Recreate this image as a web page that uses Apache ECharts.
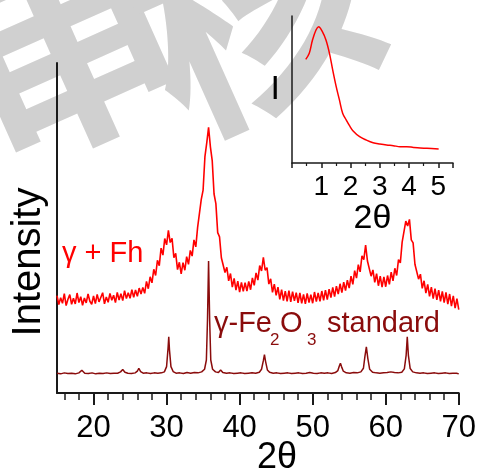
<!DOCTYPE html>
<html>
<head>
<meta charset="utf-8">
<script src="https://cdn.jsdelivr.net/npm/echarts@6/dist/echarts.min.js"></script>
<style>
html, body { margin: 0; padding: 0; background: #fff; }
#chart { width: 479px; height: 476px; }
</style>
</head>
<body>
<div id="chart"></div>
<script>
// γ + Fh pattern, sampled every 0.25° from 15°
const fhStart = 15;
const fhStep = 0.25;
const fhCounts = [
  29.5, 26.8, 28.9, 27.2, 30.1, 26.5, 28.4, 29.8,
  26.9, 28.7, 27.0, 30.3, 27.4, 29.2, 26.6, 28.8,
  27.3, 30.0, 27.8, 26.9, 29.4, 27.1, 29.9, 27.6,
  28.2, 30.4, 27.0, 29.1, 27.5, 30.2, 28.1, 29.6,
  27.4, 30.5, 28.2, 30.1, 28.0, 31.0, 28.6, 30.4,
  28.7, 31.3, 29.0, 31.2, 29.3, 31.8, 30.0, 32.0,
  30.2, 33.8, 31.6, 35.2, 33.4, 37.5, 35.6, 40.2,
  38.6, 43.9, 41.8, 46.8, 44.9, 49.3, 45.6, 46.9,
  41.0, 42.3, 37.4, 39.6, 36.1, 39.5, 37.2, 41.3,
  39.0, 43.2, 41.5, 46.4, 44.3, 50.2, 50.6, 58.7,
  61.5, 71.6, 75.8, 80.5, 74.6, 70.4, 60.3, 57.4,
  48.6, 47.3, 41.0, 41.6, 36.5, 38.1, 34.0, 36.2,
  32.1, 34.7, 31.2, 33.9, 30.6, 33.5, 30.8, 33.4,
  30.9, 33.8, 31.3, 34.9, 32.6, 36.4, 34.2, 38.6,
  37.0, 41.1, 37.2, 38.0, 33.0, 34.6, 30.5, 33.0,
  29.6, 32.1, 28.4, 31.3, 28.0, 30.9, 27.8, 31.0,
  27.6, 30.7, 27.9, 30.4, 27.3, 30.3, 27.2, 29.9,
  27.0, 30.2, 27.4, 29.8, 27.2, 30.6, 27.7, 30.3,
  27.8, 30.9, 28.1, 31.2, 28.3, 31.5, 28.9, 32.0,
  29.2, 32.4, 30.0, 33.1, 30.4, 33.6, 31.0, 34.2,
  31.8, 35.4, 32.9, 37.1, 34.8, 38.9, 36.7, 41.6,
  40.4, 44.8, 40.0, 40.6, 35.4, 37.3, 33.5, 36.2,
  32.5, 35.4, 32.1, 35.2, 32.2, 35.6, 32.9, 36.6,
  34.0, 37.8, 35.6, 40.4, 39.4, 45.7, 46.0, 52.1,
  50.6, 52.6, 46.4, 45.5, 39.0, 39.6, 34.5, 36.0,
  31.7, 34.0, 30.3, 32.9, 29.3, 32.1, 28.6, 31.6,
  28.2, 31.2, 27.8, 30.8, 27.4, 30.5, 26.9, 30.0,
  26.3, 29.4, 25.7, 28.6, 25.3
];

// γ-Fe2O3 reference pattern as [2θ, intensity]
const stdPattern = [
  [15.0, 6.0], [15.5, 5.8], [16.0, 6.1], [16.5, 5.9], [17.0, 6.0], [17.5, 5.8],
  [18.0, 6.1], [18.4, 6.9], [18.8, 6.0], [19.3, 5.9], [19.8, 6.1], [20.3, 5.8],
  [20.8, 6.0], [21.3, 5.9], [21.8, 6.1], [22.3, 5.9], [22.8, 6.0], [23.3, 6.0],
  [23.7, 6.4], [24.0, 7.1], [24.3, 6.3], [24.7, 6.0], [25.2, 5.9], [25.7, 6.1],
  [26.0, 6.6], [26.2, 7.5], [26.45, 6.5], [26.8, 6.0], [27.3, 6.1], [27.8, 5.9],
  [28.3, 6.1], [28.8, 6.0], [29.3, 6.1], [29.7, 6.4], [30.0, 8.0], [30.2, 13.5],
  [30.3, 17.0], [30.4, 13.0], [30.6, 8.0], [30.9, 6.5], [31.3, 6.0], [31.8, 6.1],
  [32.3, 5.9], [32.8, 6.2], [33.3, 6.0], [33.8, 6.2], [34.3, 6.1], [34.8, 6.4],
  [35.2, 7.2], [35.45, 10.0], [35.6, 22.0], [35.75, 40.0], [35.9, 22.0], [36.05, 10.0],
  [36.3, 7.2], [36.7, 6.4], [37.1, 6.2], [37.4, 7.0], [37.7, 6.2], [38.2, 6.0],
  [38.7, 6.1], [39.2, 5.9], [39.7, 6.0], [40.2, 6.1], [40.7, 5.9], [41.2, 6.0],
  [41.7, 6.1], [42.2, 6.0], [42.7, 6.3], [43.0, 7.2], [43.25, 9.8], [43.4, 11.6],
  [43.55, 9.6], [43.8, 7.0], [44.1, 6.3], [44.6, 6.0], [45.1, 6.1], [45.6, 5.9],
  [46.1, 6.0], [46.6, 6.1], [47.1, 5.9], [47.6, 6.0], [48.1, 6.1], [48.6, 5.9],
  [49.1, 6.0], [49.6, 6.2], [50.1, 6.0], [50.6, 5.9], [51.1, 6.1], [51.6, 6.0],
  [52.1, 6.1], [52.6, 5.9], [53.1, 6.2], [53.45, 6.8], [53.65, 8.2], [53.8, 9.0],
  [53.95, 8.0], [54.2, 6.6], [54.6, 6.1], [55.1, 6.0], [55.6, 6.2], [56.1, 6.1],
  [56.6, 6.4], [56.95, 7.5], [57.15, 11.0], [57.35, 14.0], [57.55, 10.5], [57.8, 7.2],
  [58.2, 6.3], [58.7, 6.1], [59.2, 6.0], [59.7, 6.1], [60.2, 6.2], [60.7, 6.4],
  [61.2, 6.2], [61.7, 6.1], [62.2, 6.3], [62.55, 7.3], [62.8, 11.5], [62.95, 17.0],
  [63.1, 11.5], [63.35, 7.4], [63.7, 6.4], [64.2, 6.1], [64.7, 6.0], [65.2, 6.1],
  [65.7, 5.9], [66.2, 6.0], [66.7, 6.1], [67.2, 5.9], [67.7, 6.0], [68.2, 6.1],
  [68.7, 5.9], [69.2, 6.0], [69.7, 6.0], [70.0, 5.8]
];

// Low-angle inset
const insetTheta = [0.47, 0.59, 0.70, 0.82, 0.91, 1.02, 1.16, 1.28, 1.39, 1.51, 1.62, 1.73, 1.85,
  1.97, 2.08, 2.31, 2.54, 2.77, 3.00, 3.23, 3.46, 3.69, 3.92, 4.15, 4.38, 4.61, 5.01];
const insetIntensity = [70.5, 74.6, 83.7, 90.5, 92.7, 90.0, 83.7, 74.6, 63.3, 51.9, 42.9, 33.8, 29.3,
  25.2, 22.0, 17.9, 15.6, 13.8, 12.9, 12.2, 11.8, 11.1, 11.1, 10.6, 10.2, 10.0, 9.5];

// Axis ticks
const mainTicks = [20, 30, 40, 50, 60, 70];
const mainMinorTicks = [16, 18, 22, 24, 26, 28, 32, 34, 36, 38, 42, 44, 46, 48, 52, 54, 56, 58, 62, 64, 66, 68];
const insetTicks = [1, 2, 3, 4, 5];

const FONT = "'Liberation Sans', Arial, sans-serif";
const INK = '#1a1a1a';
const RED = '#ff0000';
const DARK_RED = '#8a0c0c';

const fhData = fhCounts.map((v, i) => [fhStart + i * fhStep, v]);
const insetData = insetTheta.map((t, i) => [t, insetIntensity[i]]);

const chart = echarts.init(document.getElementById('chart'), null, { renderer: 'canvas' });

const txt = (text, x, y, size, color, extra) => Object.assign({
  type: 'text', x: x, y: y, silent: true,
  style: { text: text, fontSize: size, fontFamily: FONT, fill: color, align: 'left', verticalAlign: 'middle' }
}, extra || {});

const stamp = (text, x, y) => ({
  type: 'text', x: x, y: y, rotation: 0.42, z: -10, silent: true,
  style: { text: text, fontSize: 235, fontWeight: 'bold', fontFamily: "'Noto Sans CJK SC'",
    fill: '#d0d0d0', align: 'center', verticalAlign: 'middle' }
});

chart.setOption({
  animation: false,
  backgroundColor: '#ffffff',
  grid: [
    { left: 57, right: 17, top: 63, bottom: 83 },
    { left: 292, right: 26, top: 16, bottom: 313 }
  ],
  xAxis: [
    {
      gridIndex: 0, type: 'value', min: 15, max: 70, position: 'bottom',
      axisLine: { lineStyle: { color: INK, width: 2 } },
      axisTick: { show: true, customValues: mainTicks, length: 12, lineStyle: { color: INK, width: 2 } },
      axisLabel: { customValues: mainTicks, margin: 20, fontSize: 31, color: '#000', fontFamily: FONT },
      splitLine: { show: false }
    },
    {
      gridIndex: 0, type: 'value', min: 15, max: 70, position: 'bottom', offset: 0,
      axisLine: { show: false },
      axisTick: { show: true, customValues: mainMinorTicks, length: 7, lineStyle: { color: INK, width: 1.5 } },
      axisLabel: { show: false },
      splitLine: { show: false }
    },
    {
      gridIndex: 1, type: 'value', min: 0, max: 5.5, interval: 1, position: 'bottom',
      name: '2θ', nameLocation: 'middle', nameGap: 38,
      nameTextStyle: { fontSize: 34, color: '#000', fontFamily: FONT },
      axisLine: { lineStyle: { color: INK, width: 1.5 } },
      axisTick: { show: true, length: 5, lineStyle: { color: INK, width: 1.5 } },
      minorTick: { show: true, splitNumber: 2, length: 3, lineStyle: { color: INK, width: 1.2 } },
      axisLabel: { customValues: insetTicks, margin: 10, fontSize: 28, color: '#000', fontFamily: FONT },
      splitLine: { show: false }
    }
  ],
  yAxis: [
    {
      gridIndex: 0, type: 'value', min: 0, max: 100,
      axisLine: { show: true, lineStyle: { color: INK, width: 2 } },
      axisTick: { show: false }, axisLabel: { show: false }, splitLine: { show: false }
    },
    {
      gridIndex: 1, type: 'value', min: 0, max: 100,
      name: 'I', nameLocation: 'middle', nameRotate: 0, nameGap: 12,
      nameTextStyle: { fontSize: 34, color: '#000', fontFamily: FONT, padding: [6, 0, 0, 0] },
      axisLine: { show: true, lineStyle: { color: INK, width: 1.5 } },
      axisTick: { show: false }, axisLabel: { show: false }, splitLine: { show: false }
    }
  ],
  series: [
    {
      name: 'γ + Fh', type: 'line', xAxisIndex: 0, yAxisIndex: 0, data: fhData,
      showSymbol: false, lineStyle: { color: RED, width: 1.6 }, z: 3
    },
    {
      name: 'γ-Fe2O3 standard', type: 'line', xAxisIndex: 0, yAxisIndex: 0, data: stdPattern,
      showSymbol: false, lineStyle: { color: DARK_RED, width: 1.5 }, z: 4
    },
    {
      name: 'low angle', type: 'line', xAxisIndex: 2, yAxisIndex: 1, data: insetData,
      showSymbol: false, smooth: 0.35, lineStyle: { color: RED, width: 1.5 }, z: 3
    }
  ],
  graphic: [
    // grey stamp behind the plot
    stamp('审', 62, 42),
    stamp('核', 252, 8),
    // bottom edge of a caption above the frame
    txt('2', 189, -9, 34, '#000'),
    txt('θ', 246, -9, 34, '#000'),
    // axis titles
    txt('Intensity', 29, 262, 40, '#000', { rotation: Math.PI / 2, style: { text: 'Intensity', fontSize: 40, fontFamily: FONT, fill: '#000', align: 'center', verticalAlign: 'middle' } }),
    txt('2θ', 277, 458, 36, '#000', { style: { text: '2θ', fontSize: 36, fontFamily: FONT, fill: '#000', align: 'center', verticalAlign: 'middle' } }),
    // series captions
    txt('γ + Fh', 62, 254, 29, RED),
    txt('γ-Fe', 214, 324, 29, DARK_RED),
    txt('2', 270, 340, 17, DARK_RED),
    txt('O', 280, 324, 29, DARK_RED),
    txt('3', 307, 340, 17, DARK_RED),
    txt('standard', 327, 324, 29, DARK_RED)
  ]
});
</script>
</body>
</html>
